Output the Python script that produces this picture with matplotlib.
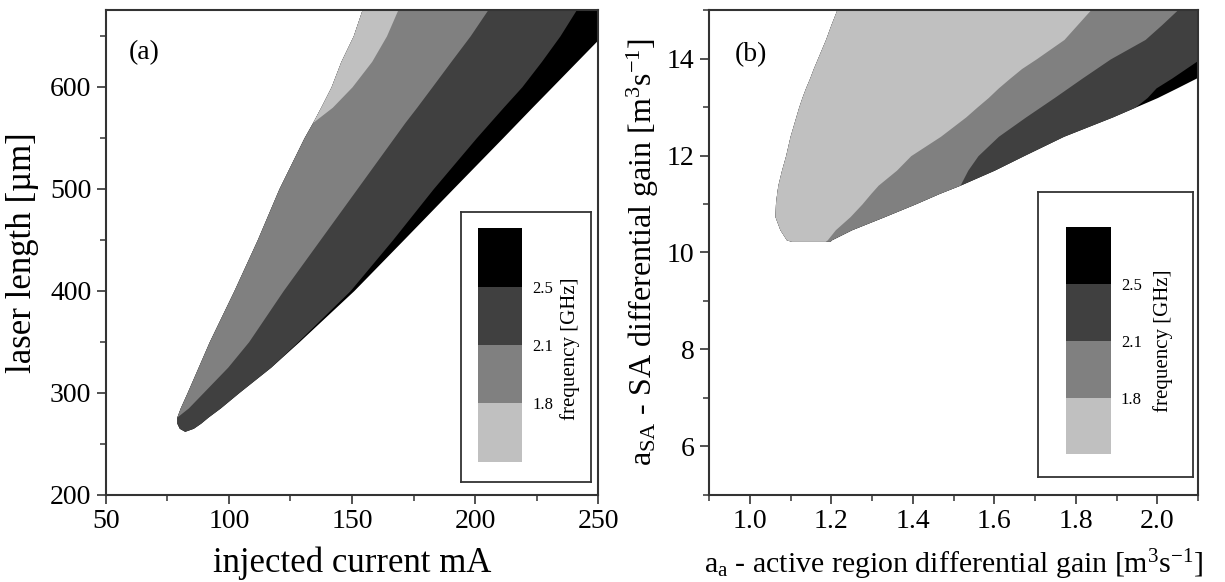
import matplotlib
matplotlib.use("Agg")
import matplotlib.pyplot as plt
from matplotlib.ticker import MultipleLocator, FormatStrFormatter, NullLocator
from matplotlib.colors import ListedColormap, BoundaryNorm
from matplotlib.cm import ScalarMappable

plt.rcParams['font.family'] = ['Liberation Serif', 'DejaVu Serif']
plt.rcParams['mathtext.fontset'] = 'custom'
plt.rcParams['mathtext.rm'] = 'Liberation Serif'
plt.rcParams['mathtext.it'] = 'Liberation Serif:italic'
plt.rcParams['mathtext.bf'] = 'Liberation Serif:bold'

# Frequency bands (GHz): < 1.8, 1.8-2.1, 2.1-2.5, > 2.5
freq_levels = [1.8, 2.1, 2.5]
band_edges = [1.5, 1.8, 2.1, 2.5, 2.9]
band_colors = ['#c0c0c0', '#808080', '#404040', '#000000']

# (a) laser length [um] vs injected current [mA]; band boundaries as current at each length
length_um = [262, 265, 270, 276, 285, 300, 325, 350, 400, 450, 500, 550, 565, 580, 600, 625, 650, 675]
cur_left = [82, 79.8, 78.8, 78.8, 80.2, 83, 87.5, 92, 102, 111.5, 120.3, 130.5, 134, 137.3, 141.5, 145.5, 150.5, 154]
cur_light_mid = [82, 79.8, 78.8, 78.8, 80.2, 83, 87.5, 92, 102, 111.5, 120.3, 130.5, 134, 142, 150, 158, 164, 168.5]
cur_mid_dark = [82, 79.8, 78.8, 78.8, 83.5, 89.5, 99.5, 108, 122, 137, 152, 167, 171.5, 176.3, 182.5, 190.2, 198, 205]
cur_dark_black = [82, 85.5, 88.5, 91.5, 96.5, 104, 117, 128, 149.2, 166.5, 183, 200.5, 206, 211.5, 219, 227, 234.5, 241]
cur_right = [82, 85.5, 88.5, 91.5, 96.5, 104, 117, 128.5, 150.7, 170.9, 191, 211.2, 217.2, 223.2, 231.3, 241.4, 251.5, 261.5]

# (b) SA differential gain vs active region differential gain; boundaries as a_a at each a_SA
gain_sa = [10.23, 10.26, 10.47, 10.74, 11.0, 11.22, 11.39, 11.7, 12.0, 12.4, 12.8, 13.0, 13.2, 13.4, 13.6, 13.8, 14.0, 14.4, 14.7, 15.0]
ga_left = [1.103, 1.09, 1.074, 1.062, 1.063, 1.066, 1.069, 1.078, 1.088, 1.099, 1.113, 1.12, 1.128, 1.137, 1.147, 1.156, 1.166, 1.186, 1.199, 1.213]
ga_light_mid = [1.185, 1.19, 1.21, 1.246, 1.275, 1.297, 1.315, 1.36, 1.395, 1.468, 1.53, 1.557, 1.585, 1.61, 1.638, 1.667, 1.703, 1.771, 1.803, 1.835]
ga_mid_dark = [1.197, 1.20, 1.25, 1.33, 1.405, 1.465, 1.516, 1.535, 1.56, 1.61, 1.677, 1.712, 1.747, 1.781, 1.815, 1.85, 1.885, 1.97, 2.01, 2.048]
ga_dark_black = [1.197, 1.20, 1.25, 1.33, 1.405, 1.465, 1.516, 1.600, 1.672, 1.77, 1.89, 1.945, 1.975, 1.997, 2.035, 2.07, 2.105, 2.2, 2.3, 2.4]
ga_right = [1.197, 1.20, 1.25, 1.33, 1.405, 1.465, 1.516, 1.600, 1.672, 1.77, 1.89, 1.945, 2.0, 2.048, 2.095, 2.145, 2.2, 2.3, 2.38, 2.45]

fig = plt.figure(figsize=(12.25, 5.82), dpi=100)
ax_a = fig.add_axes([0.0865, 0.1503, 0.4017, 0.8318])
ax_b = fig.add_axes([0.5788, 0.1503, 0.3992, 0.8318])


def draw_bands(ax, y, left, b1, b2, b3, right):
    # paint from the widest band inwards so neighbouring bands share edges without seams
    ax.fill_betweenx(y, left, right, color=band_colors[3], lw=0)
    ax.fill_betweenx(y, left, b3, color=band_colors[2], lw=0)
    ax.fill_betweenx(y, left, b2, color=band_colors[1], lw=0)
    ax.fill_betweenx(y, left, b1, color=band_colors[0], lw=0)


draw_bands(ax_a, length_um, cur_left, cur_light_mid, cur_mid_dark, cur_dark_black, cur_right)
draw_bands(ax_b, gain_sa, ga_left, ga_light_mid, ga_mid_dark, ga_dark_black, ga_right)

ax_a.set_xlim(50, 250)
ax_a.set_ylim(200, 675)
ax_a.xaxis.set_major_locator(MultipleLocator(50))
ax_a.xaxis.set_minor_locator(MultipleLocator(25))
ax_a.yaxis.set_major_locator(MultipleLocator(100))
ax_a.yaxis.set_minor_locator(MultipleLocator(50))
ax_a.set_xlabel('injected current mA', fontsize=25, labelpad=9)
ax_a.set_ylabel('laser length [µm]', fontsize=25, labelpad=8)

ax_b.set_xlim(0.9, 2.1)
ax_b.set_ylim(5, 15)
ax_b.xaxis.set_major_locator(MultipleLocator(0.2))
ax_b.xaxis.set_minor_locator(MultipleLocator(0.1))
ax_b.xaxis.set_major_formatter(FormatStrFormatter('%.1f'))
ax_b.yaxis.set_major_locator(MultipleLocator(2))
ax_b.yaxis.set_minor_locator(MultipleLocator(1))
ax_b.set_xlabel(r'a$_{\mathrm{a}}$ - active region differential gain [m$^{3}$s$^{-1}$]', fontsize=21.5, labelpad=10)
ax_b.set_ylabel(r'a$_{\mathrm{SA}}$ - SA differential gain [m$^{3}$s$^{-1}$]', fontsize=23, labelpad=4)

for ax in (ax_a, ax_b):
    for s in ax.spines.values():
        s.set_linewidth(1.5)
        s.set_color('#333333')
    ax.tick_params(which='major', direction='out', length=6.5, width=1.2, color='#333333',
                   labelsize=20, pad=4)
    ax.tick_params(which='minor', direction='out', length=4, width=1.1, color='#333333')

ax_a.text(0.047, 0.912, '(a)', transform=ax_a.transAxes, fontsize=20, va='center', ha='left')
ax_b.text(0.053, 0.909, '(b)', transform=ax_b.transAxes, fontsize=20, va='center', ha='left')

# Frequency keys: framed box holding a stepped colour bar
cmap = ListedColormap(band_colors)
norm = BoundaryNorm(band_edges, cmap.N)
keys = [
    ([0.3763, 0.1718, 0.1061, 0.4644], [0.3900, 0.2067, 0.0364, 0.4010], (0.4653, 0.4009)),
    ([0.8471, 0.1811, 0.1264, 0.4888], [0.8700, 0.2192, 0.0370, 0.3902], (0.9498, 0.4141)),
]
for box_rect, bar_rect, lab_xy in keys:
    box = fig.add_axes(box_rect)
    box.set_xticks([])
    box.set_yticks([])
    for s in box.spines.values():
        s.set_linewidth(1.3)
        s.set_color('#333333')
    cax = fig.add_axes(bar_rect)
    cb = fig.colorbar(ScalarMappable(norm=norm, cmap=cmap), cax=cax,
                      ticks=freq_levels, spacing='uniform')
    cb.outline.set_visible(False)
    cax.yaxis.set_minor_locator(NullLocator())
    cax.tick_params(which='both', length=0, labelsize=12, pad=7)
    fig.text(lab_xy[0], lab_xy[1], 'frequency [GHz]', rotation=90,
             fontsize=15, ha='center', va='center')

fig.savefig('out.png', dpi=100)
